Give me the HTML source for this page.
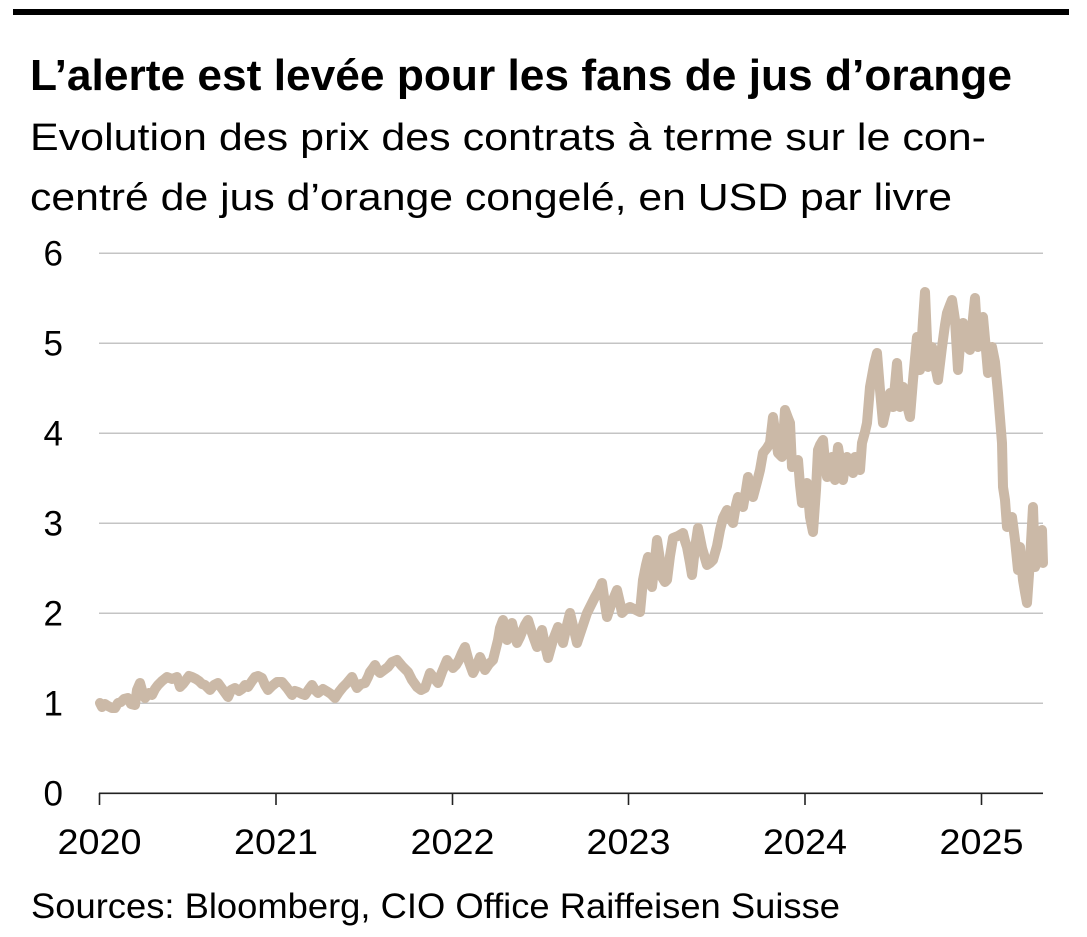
<!DOCTYPE html>
<html>
<head>
<meta charset="utf-8">
<style>
  html, body { margin: 0; padding: 0; background: #ffffff; }
  body { width: 1087px; height: 937px; overflow: hidden; }
  svg { display: block; }
  .t { font-family: "Liberation Sans", sans-serif; fill: #000; }
</style>
</head>
<body>
<svg width="1087" height="937" viewBox="0 0 1087 937" xmlns="http://www.w3.org/2000/svg">
  <rect x="0" y="0" width="1087" height="937" fill="#ffffff"/>
  <!-- top rule -->
  <rect x="13" y="9" width="1056" height="6" fill="#000"/>

  <!-- title -->
  <text class="t" x="30" y="90" font-size="44" font-weight="bold" textLength="982" lengthAdjust="spacingAndGlyphs">L’alerte est levée pour les fans de jus d’orange</text>
  <text class="t" x="30" y="150" font-size="38" textLength="956" lengthAdjust="spacingAndGlyphs">Evolution des prix des contrats à terme sur le con-</text>
  <text class="t" x="30" y="210" font-size="38" textLength="922" lengthAdjust="spacingAndGlyphs">centré de jus d’orange congelé, en USD par livre</text>

  <!-- gridlines -->
  <g stroke="#c4c4c4" stroke-width="1.5">
    <line x1="99" y1="253.3" x2="1043" y2="253.3"/>
    <line x1="99" y1="343.3" x2="1043" y2="343.3"/>
    <line x1="99" y1="433.3" x2="1043" y2="433.3"/>
    <line x1="99" y1="523.3" x2="1043" y2="523.3"/>
    <line x1="99" y1="613.3" x2="1043" y2="613.3"/>
    <line x1="99" y1="703.3" x2="1043" y2="703.3"/>
  </g>

  <!-- y labels -->
  <g class="t" font-size="35" text-anchor="end">
    <text x="63" y="265.5">6</text>
    <text x="63" y="355.5">5</text>
    <text x="63" y="445.5">4</text>
    <text x="63" y="535.5">3</text>
    <text x="63" y="625.5">2</text>
    <text x="63" y="715.5">1</text>
    <text x="63" y="805.5">0</text>
  </g>

  <!-- series -->
  <polyline fill="none" stroke="#cbb9a7" stroke-width="10" stroke-linejoin="round" stroke-linecap="round"
    points="100,703 102,707 105,704 108,706 112,708 115,708 118,703 121,702 124,699 128,698 131,704 135,705 137,690 140,683 143,694 145,698 149,693 152,695 155,689 158,685 162,681 167,677 172,679 177,677 180,687 183,684 186,680 189,676 192,677 196,679 199,681 202,684 205,685 208,688 210,690 214,685 218,683 223,690 228,697 231,690 235,688 239,691 242,689 245,685 248,687 252,681 255,677 258,676 262,678 265,685 268,690 272,686 277,682 282,682 287,688 292,695 295,691 298,692 302,694 305,695 309,689 312,685 315,690 318,693 323,689 328,692 331,694 335,698 339,692 343,687 347,683 352,677 355,684 357,688 361,684 365,683 368,677 370,672 373,668 375,665 378,671 380,673 384,670 388,667 392,662 397,660 402,666 405,669 408,672 412,680 417,687 421,690 425,688 428,679 430,673 434,678 438,683 442,672 447,660 450,664 453,668 456,665 459,660 462,653 465,647 469,662 473,673 476,667 480,657 483,664 485,670 489,664 493,660 498,640 500,628 503,620 505,632 507,640 510,628 512,623 515,636 517,643 520,637 522,632 525,625 528,620 532,633 537,647 540,636 542,630 545,645 548,658 553,640 558,627 561,636 563,643 567,625 570,613 574,630 577,643 582,628 587,613 591,605 595,597 599,590 602,583 605,604 607,617 612,602 617,590 620,603 622,613 626,609 630,607 636,610 640,612 643,580 646,565 648,557 650,575 652,587 655,560 657,540 660,560 662,577 665,582 667,580 670,556 673,538 678,536 683,533 685,541 687,547 690,563 692,575 695,548 698,528 702,548 707,565 710,563 713,560 717,546 720,530 723,518 727,510 730,518 733,523 736,505 738,497 741,502 743,507 746,490 748,477 751,488 753,497 757,482 760,470 763,453 767,448 770,443 773,417 776,438 778,453 782,457 785,410 788,418 790,423 792,467 795,463 798,460 800,485 802,503 805,490 807,483 810,517 813,532 816,490 818,450 820,445 823,440 825,462 827,477 830,465 832,457 835,480 838,447 841,466 843,480 845,465 847,457 850,467 853,473 855,457 858,464 860,470 862,443 865,432 867,423 870,387 874,365 877,353 880,390 883,423 887,405 890,393 893,407 897,363 900,407 903,387 907,405 910,417 913,380 917,337 920,370 923,320 925,292 927,340 928,367 932,347 935,365 938,380 942,347 945,325 947,313 950,305 952,300 955,320 958,370 960,345 963,323 967,347 970,350 973,318 975,298 978,347 981,330 983,317 986,350 988,373 992,347 995,362 998,393 1002,443 1003,487 1005,500 1007,527 1010,520 1012,517 1015,540 1018,570 1020,547 1023,580 1025,592 1027,603 1030,560 1033,507 1035,567 1038,560 1042,530 1043,563"/>

  <!-- x axis -->
  <g stroke="#222" stroke-width="1.6">
    <line x1="99" y1="793.3" x2="1043" y2="793.3"/>
    <line x1="99.5" y1="793" x2="99.5" y2="805"/>
    <line x1="276" y1="793" x2="276" y2="805"/>
    <line x1="452.5" y1="793" x2="452.5" y2="805"/>
    <line x1="628.5" y1="793" x2="628.5" y2="805"/>
    <line x1="805" y1="793" x2="805" y2="805"/>
    <line x1="981.5" y1="793" x2="981.5" y2="805"/>
  </g>

  <!-- x labels -->
  <g class="t" font-size="35" text-anchor="middle">
    <text x="99.5" y="854" textLength="84" lengthAdjust="spacingAndGlyphs">2020</text>
    <text x="276" y="854" textLength="84" lengthAdjust="spacingAndGlyphs">2021</text>
    <text x="452.5" y="854" textLength="84" lengthAdjust="spacingAndGlyphs">2022</text>
    <text x="628.5" y="854" textLength="84" lengthAdjust="spacingAndGlyphs">2023</text>
    <text x="805" y="854" textLength="84" lengthAdjust="spacingAndGlyphs">2024</text>
    <text x="981.5" y="854" textLength="84" lengthAdjust="spacingAndGlyphs">2025</text>
  </g>

  <!-- source -->
  <text class="t" x="31" y="918" font-size="35" textLength="809" lengthAdjust="spacingAndGlyphs">Sources: Bloomberg, CIO Office Raiffeisen Suisse</text>
</svg>
</body>
</html>
